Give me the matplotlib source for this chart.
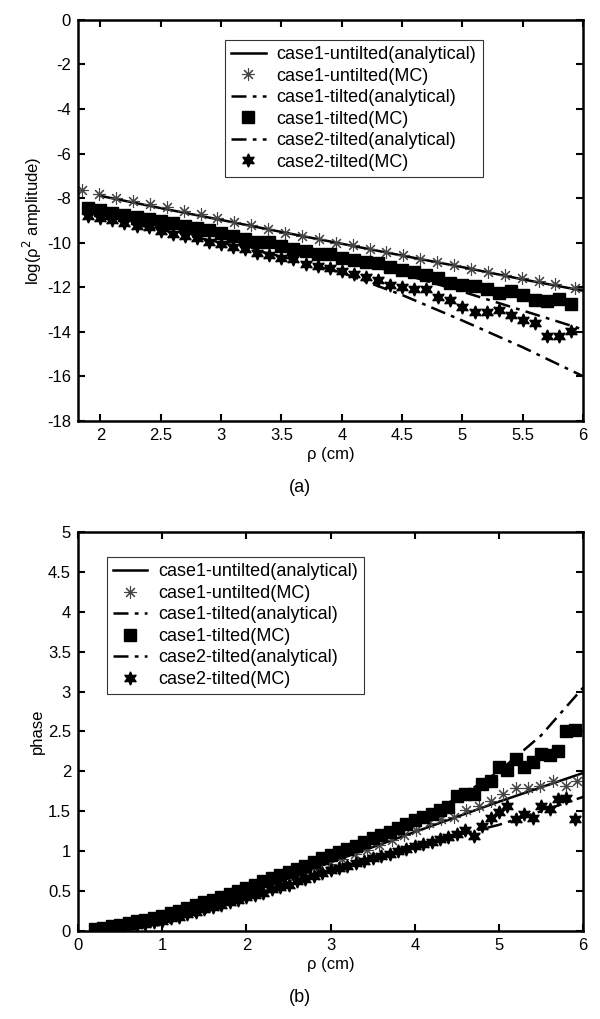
import matplotlib
matplotlib.use("Agg")
import matplotlib.pyplot as plt
import numpy as np

plt.rcParams["font.family"] = ["Liberation Sans", "DejaVu Sans"]
plt.rcParams["font.size"] = 12
plt.rcParams["axes.unicode_minus"] = False

# ---------------------------------------------------------------------------
# Panel (a): log(rho^2 amplitude) vs rho
# ---------------------------------------------------------------------------
a_line_x = [2.0, 2.5, 3.0, 3.5, 4.0, 4.5, 5.0, 5.5, 6.0]
a_c1_untilted_an = [-7.90, -8.45, -8.98, -9.52, -10.05, -10.58, -11.10, -11.65, -12.16]
a_c1_tilted_an = [-8.55, -9.10, -9.62, -10.15, -10.70, -11.40, -12.20, -13.05, -13.90]
a_c2_tilted_an = [-8.88, -9.42, -10.00, -10.62, -11.35, -12.35, -13.50, -14.70, -16.00]

a_ast_x = [1.85, 1.99, 2.13, 2.27, 2.41, 2.55, 2.69, 2.83, 2.97, 3.11,
           3.25, 3.39, 3.53, 3.67, 3.81, 3.95, 4.09, 4.23, 4.37, 4.51,
           4.65, 4.79, 4.93, 5.07, 5.21, 5.35, 5.49, 5.63, 5.77, 5.93]
a_c1_untilted_mc = [-7.62, -7.82, -8.00, -8.12, -8.27, -8.41, -8.58, -8.73, -8.91, -9.06,
                    -9.22, -9.38, -9.56, -9.70, -9.85, -10.00, -10.12, -10.27, -10.40, -10.55,
                    -10.72, -10.87, -11.02, -11.18, -11.32, -11.47, -11.60, -11.74, -11.86, -12.02]

a_mc_x = np.round(np.arange(1.9, 5.95, 0.1), 2)
a_c1_tilted_mc = [-8.45, -8.55, -8.67, -8.75, -8.84, -8.94, -9.05, -9.12, -9.25, -9.35,
                  -9.45, -9.55, -9.70, -9.82, -9.95, -9.95, -10.15, -10.30, -10.38, -10.50,
                  -10.53, -10.68, -10.76, -10.88, -10.91, -11.09, -11.24, -11.33, -11.44, -11.59,
                  -11.81, -11.92, -11.96, -12.07, -12.27, -12.16, -12.34, -12.57, -12.64, -12.52,
                  -12.76]
a_c2_tilted_mc = [-8.80, -8.90, -9.00, -9.10, -9.25, -9.32, -9.47, -9.60, -9.70, -9.80,
                  -9.95, -10.08, -10.20, -10.30, -10.45, -10.57, -10.68, -10.75, -10.98, -11.06,
                  -11.13, -11.28, -11.43, -11.56, -11.69, -11.89, -12.00, -12.08, -12.10, -12.42,
                  -12.57, -12.87, -13.10, -13.10, -13.02, -13.25, -13.48, -13.60, -14.17, -14.17,
                  -13.95]

# ---------------------------------------------------------------------------
# Panel (b): phase vs rho
# ---------------------------------------------------------------------------
b_line_x = [0.2, 0.5, 1.0, 1.5, 2.0, 2.5, 3.0, 3.5, 4.0, 4.5, 5.0, 5.5, 6.0]
b_c1_untilted_an = [0.02, 0.06, 0.16, 0.30, 0.47, 0.66, 0.86, 1.05, 1.24, 1.43, 1.62, 1.80, 1.98]
b_c1_tilted_an = [0.02, 0.07, 0.18, 0.35, 0.54, 0.75, 0.95, 1.17, 1.40, 1.66, 2.00, 2.45, 3.05]
b_c2_tilted_an = [0.02, 0.05, 0.15, 0.28, 0.44, 0.61, 0.78, 0.93, 1.08, 1.20, 1.33, 1.50, 1.68]

b_ast_x = [0.20, 0.35, 0.49, 0.64, 0.79, 0.94, 1.08, 1.23, 1.38, 1.52,
           1.67, 1.82, 1.96, 2.11, 2.26, 2.41, 2.55, 2.70, 2.85, 2.99,
           3.14, 3.29, 3.43, 3.58, 3.73, 3.87, 4.02, 4.17, 4.31, 4.46,
           4.61, 4.76, 4.90, 5.05, 5.20, 5.34, 5.49, 5.64, 5.79, 5.93]
b_c1_untilted_mc = [0.02, 0.04, 0.06, 0.09, 0.11, 0.14, 0.18, 0.22, 0.26, 0.30,
                    0.35, 0.40, 0.45, 0.50, 0.55, 0.61, 0.66, 0.72, 0.78, 0.84,
                    0.90, 0.96, 1.02, 1.08, 1.14, 1.20, 1.27, 1.35, 1.40, 1.43,
                    1.52, 1.57, 1.63, 1.71, 1.79, 1.79, 1.82, 1.88, 1.82, 1.88]

b_mc_x = np.round(np.arange(0.2, 5.95, 0.1), 2)
b_c1_tilted_mc = [0.03, 0.04, 0.06, 0.08, 0.10, 0.12, 0.14, 0.16, 0.19, 0.22,
                  0.25, 0.29, 0.32, 0.36, 0.39, 0.43, 0.46, 0.50, 0.54, 0.58,
                  0.62, 0.66, 0.70, 0.74, 0.78, 0.82, 0.86, 0.91, 0.95, 0.99,
                  1.03, 1.07, 1.11, 1.16, 1.20, 1.24, 1.29, 1.34, 1.39, 1.43,
                  1.46, 1.51, 1.55, 1.69, 1.72, 1.72, 1.84, 1.88, 2.05, 2.02,
                  2.15, 2.05, 2.12, 2.22, 2.21, 2.26, 2.51, 2.52]
b_c2_tilted_mc = [0.01, 0.02, 0.03, 0.04, 0.06, 0.07, 0.09, 0.11, 0.13, 0.16,
                  0.18, 0.21, 0.24, 0.27, 0.30, 0.33, 0.36, 0.39, 0.42, 0.45,
                  0.48, 0.52, 0.55, 0.58, 0.62, 0.65, 0.69, 0.72, 0.76, 0.79,
                  0.82, 0.85, 0.88, 0.91, 0.94, 0.97, 1.00, 1.03, 1.06, 1.09,
                  1.12, 1.15, 1.18, 1.21, 1.26, 1.19, 1.32, 1.42, 1.49, 1.57,
                  1.40, 1.46, 1.42, 1.57, 1.53, 1.65, 1.67, 1.40]

LABELS = ["case1-untilted(analytical)", "case1-untilted(MC)", "case1-tilted(analytical)",
          "case1-tilted(MC)", "case2-tilted(analytical)", "case2-tilted(MC)"]

ASTERISK = (8, 2, 0)
HEXSTAR = (6, 1, 0)
DASHDOT = (0, (6, 2.5, 1.5, 2.5))


def draw_panel(ax, line_x, un_an, t1_an, t2_an, ast_x, un_mc, mc_x, t1_mc, t2_mc):
    h1, = ax.plot(line_x, un_an, color="black", lw=1.8)
    h2, = ax.plot(ast_x, un_mc, ls="none", marker=ASTERISK, ms=9, mew=0.8,
                  color="#444444")
    h3, = ax.plot(line_x, t1_an, color="black", lw=1.8, ls=DASHDOT)
    h4, = ax.plot(mc_x, t1_mc, ls="none", marker="s", ms=8.5, color="black")
    h5, = ax.plot(line_x, t2_an, color="black", lw=1.8, ls=DASHDOT)
    h6, = ax.plot(mc_x, t2_mc, ls="none", marker=HEXSTAR, ms=9.5, color="black")
    for sp in ax.spines.values():
        sp.set_linewidth(1.8)
    ax.tick_params(direction="in", top=True, right=True, length=5, width=1.5,
                   labelsize=12, pad=5)
    return [h1, h2, h3, h4, h5, h6]


def add_legend(ax, handles, x0, top):
    leg = ax.legend(handles, LABELS, loc="upper left", bbox_to_anchor=(x0, top),
                    fontsize=13, frameon=True, fancybox=False, edgecolor="black",
                    labelspacing=0.25, handlelength=1.9, handletextpad=0.6,
                    borderpad=0.35, borderaxespad=0)
    leg.get_frame().set_linewidth(0.8)


fig = plt.figure(figsize=(6.0, 10.19), dpi=100)

# Panel (a)
ax1 = fig.add_axes([0.13, 0.587, 0.842, 0.3935])
hs = draw_panel(ax1, a_line_x, a_c1_untilted_an, a_c1_tilted_an, a_c2_tilted_an,
                a_ast_x, a_c1_untilted_mc, a_mc_x, a_c1_tilted_mc, a_c2_tilted_mc)
ax1.set_xlim(1.815, 6)
ax1.set_ylim(-18, 0)
ax1.set_xticks([2, 2.5, 3, 3.5, 4, 4.5, 5, 5.5, 6])
ax1.set_xticklabels(["2", "2.5", "3", "3.5", "4", "4.5", "5", "5.5", "6"])
ax1.set_yticks(range(-18, 1, 2))
ax1.set_xlabel("ρ (cm)", fontsize=12, labelpad=3)
ax1.set_ylabel("log(ρ$^2$ amplitude)", fontsize=12, labelpad=2)
add_legend(ax1, hs, 0.291, 0.95)
fig.text(0.5, 1 - 487 / 1019, "(a)", ha="center", va="center", fontsize=13)

# Panel (b)
ax2 = fig.add_axes([0.13, 0.0864, 0.842, 0.3916])
hs = draw_panel(ax2, b_line_x, b_c1_untilted_an, b_c1_tilted_an, b_c2_tilted_an,
                b_ast_x, b_c1_untilted_mc, b_mc_x, b_c1_tilted_mc, b_c2_tilted_mc)
ax2.set_xlim(0, 6)
ax2.set_ylim(0, 5)
ax2.set_xticks(range(0, 7))
ax2.set_yticks([0, 0.5, 1, 1.5, 2, 2.5, 3, 3.5, 4, 4.5, 5])
ax2.set_yticklabels(["0", "0.5", "1", "1.5", "2", "2.5", "3", "3.5", "4", "4.5", "5"])
ax2.set_xlabel("ρ (cm)", fontsize=12, labelpad=3)
ax2.set_ylabel("phase", fontsize=12, labelpad=2)
add_legend(ax2, hs, 0.057, 0.937)
fig.text(0.5, 1 - 998 / 1019, "(b)", ha="center", va="center", fontsize=13)

fig.savefig("out.png", dpi=100)
